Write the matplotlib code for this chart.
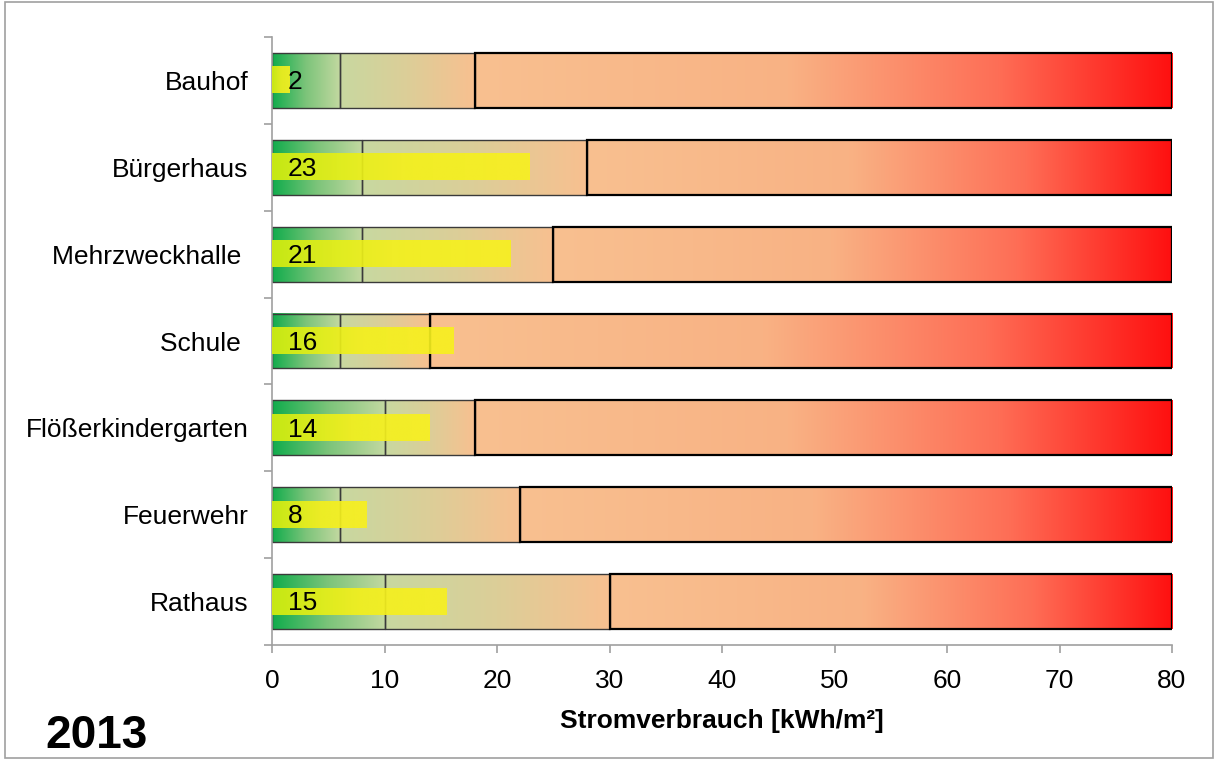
import numpy as np
import matplotlib.pyplot as plt
from matplotlib.colors import LinearSegmentedColormap
from matplotlib.patches import Rectangle

plt.rcParams['font.family'] = ['Liberation Sans', 'DejaVu Sans']

# data, top to bottom
gebaeude = ["Bauhof", "Bürgerhaus", "Mehrzweckhalle ", "Schule ", "Flößerkindergarten", "Feuerwehr", "Rathaus"]
grenze_gut = [6, 8, 8, 6, 10, 6, 10]
grenze_mittel = [18, 28, 25, 14, 18, 22, 30]
grenze_max = [80, 80, 80, 80, 80, 80, 80]
verbrauch = [1.6, 22.9, 21.2, 16.1, 14.0, 8.4, 15.5]
beschriftung = ["2", "23", "21", "16", "14", "8", "15"]
x_ticks = [0, 10, 20, 30, 40, 50, 60, 70, 80]

cm_gut = LinearSegmentedColormap.from_list("gut", ["#10ac4c", "#7cc47a", "#c2d8a0"])
cm_mittel = LinearSegmentedColormap.from_list("mittel", ["#c8d8a0", "#dcce98", "#f8c090"])
cm_schlecht = LinearSegmentedColormap.from_list(
    "schlecht", [(0, "#f8c090"), (0.45, "#f9b284"), (0.75, "#fe6e56"), (1, "#ff1010")])
cm_gelb = LinearSegmentedColormap.from_list("gelb", ["#d6ee10", "#f4f01c", "#f8f020"])

grad = np.linspace(0, 1, 256).reshape(1, -1)

fig = plt.figure(figsize=(12.16, 7.6), dpi=100)
ax = fig.add_axes([272 / 1216, 1 - 645 / 760, 900 / 1216, 608 / 760])

n = len(gebaeude)
ypos = np.arange(n)[::-1]
h = 0.633
hy = 0.30

for i in range(n):
    y = ypos[i]
    segs = [(0, grenze_gut[i], cm_gut), (grenze_gut[i], grenze_mittel[i], cm_mittel),
            (grenze_mittel[i], grenze_max[i], cm_schlecht)]
    for x0, x1, cm in segs:
        ax.imshow(grad, cmap=cm, aspect='auto', extent=(x0, x1, y - h / 2, y + h / 2),
                  interpolation='bilinear', zorder=1)
    ax.barh(y, grenze_gut[i], height=h, fill=False, edgecolor='#3a3a3a', lw=1.0, zorder=2)
    ax.barh(y, grenze_mittel[i] - grenze_gut[i], left=grenze_gut[i], height=h, fill=False,
            edgecolor='#3a3a3a', lw=1.0, zorder=2)
    ax.barh(y, grenze_max[i] - grenze_mittel[i], left=grenze_mittel[i], height=h, fill=False,
            edgecolor='black', lw=1.6, zorder=2)
    ax.imshow(grad, cmap=cm_gelb, aspect='auto', extent=(0, verbrauch[i], y - hy / 2, y + hy / 2),
              interpolation='bilinear', alpha=0.92, zorder=3)
    ax.text(1.4, y - 0.02, beschriftung[i], va='center', ha='left', fontsize=19, zorder=4)

ax.set_xlim(0, 80)
ax.set_ylim(-0.5, n - 0.5)
ax.set_xticks(x_ticks)
ax.set_yticks(ypos)
ax.set_yticklabels(gebaeude)
ax.set_yticks(np.arange(-0.5, n), minor=True)
ax.tick_params(axis='y', which='major', length=0, pad=17, labelsize=19)
ax.tick_params(axis='y', which='minor', length=6, color='#a0a0a0', width=1.2)
ax.tick_params(axis='x', length=6, color='#a0a0a0', width=1.2, labelsize=19, pad=11)
for s in ['top', 'right']:
    ax.spines[s].set_visible(False)
for s in ['left', 'bottom']:
    ax.spines[s].set_color('#a0a0a0')
    ax.spines[s].set_linewidth(1.2)

ax.set_xlabel("Stromverbrauch [kWh/m²]", fontsize=19, fontweight='bold', labelpad=12)

fig.text(45 / 1216, 1 - 736 / 760, "2013", fontsize=33, fontweight='bold', va='center', ha='left')
fig.patches.append(Rectangle((5 / 1216, 0.002), 1208 / 1216, 0.995, transform=fig.transFigure,
                             fill=False, edgecolor='#a0a0a0', lw=1.2))

fig.savefig("out.png", dpi=100)
